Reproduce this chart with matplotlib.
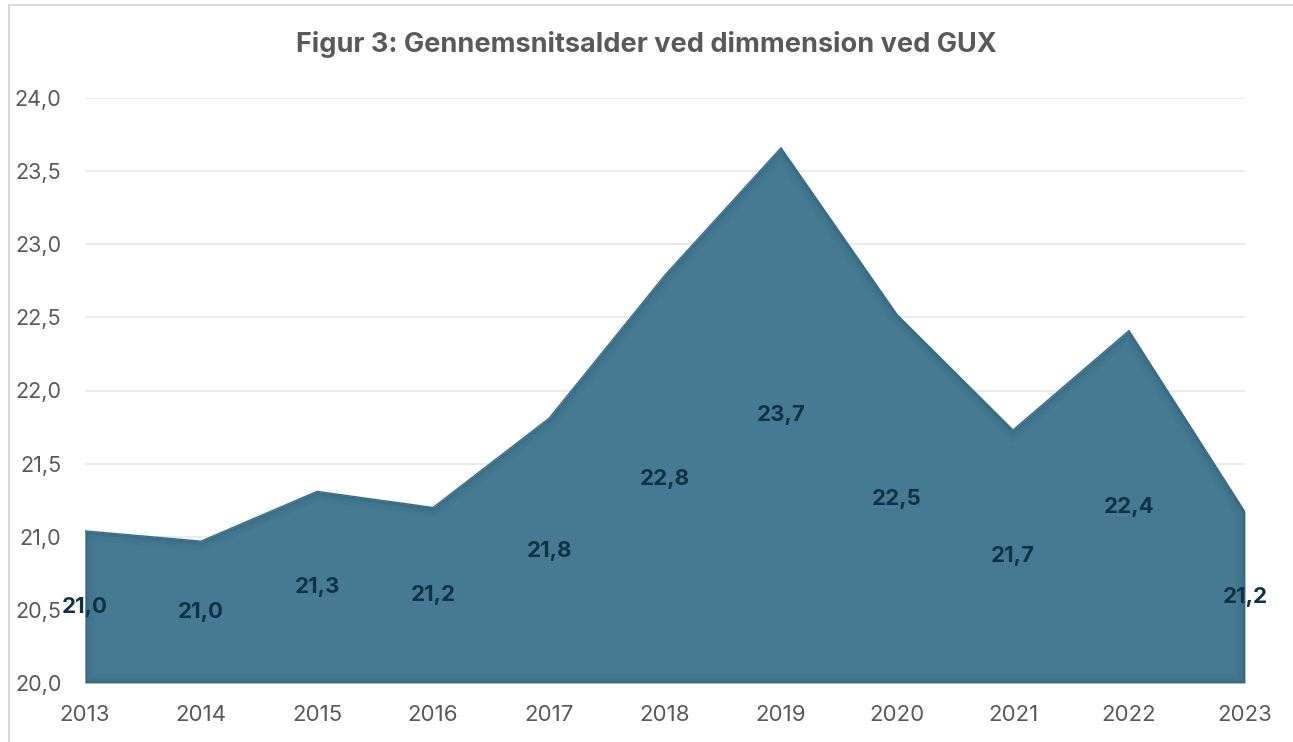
import matplotlib
matplotlib.use("Agg")
import matplotlib.pyplot as plt
from matplotlib.lines import Line2D
import numpy as np

years = [2013, 2014, 2015, 2016, 2017, 2018, 2019, 2020, 2021, 2022, 2023]
ages = [21.04, 20.97, 21.31, 21.20, 21.81, 22.79, 23.66, 22.52, 21.73, 22.41, 21.17]
yticks = [20.0, 20.5, 21.0, 21.5, 22.0, 22.5, 23.0, 23.5, 24.0]
title = "Figur 3: Gennemsnitsalder ved dimmension ved GUX"

W, H = 1293, 742
fig = plt.figure(figsize=(W / 100, H / 100), dpi=100)
fig.patch.set_facecolor("white")

ax = fig.add_axes([85 / W, 1 - 683 / H, (1245 - 85) / W, (683 - 98) / H])
x = np.arange(len(years))
ymin = 20.0

# gridlines
for t in yticks[1:]:
    ax.axhline(t, color="#ebebeb", lw=1.5, zorder=0)

fill_color = "#467a93"
poly = ax.fill_between(x, ymin, ages, color=fill_color, lw=0, zorder=2)
# inner shadow
ox = np.concatenate([[x[0]], x, [x[-1], x[0]]])
oy = np.concatenate([[ymin], ages, [ymin, ymin]])
for lw, a in [(14, 0.05), (9, 0.07), (5, 0.09), (2.5, 0.12)]:
    ln, = ax.plot(ox, oy, color="#1d4a62", lw=lw, alpha=a, zorder=3,
                  solid_joinstyle="miter")
    ln.set_clip_path(poly.get_paths()[0], ax.transData)
ax.plot(x, ages, color="#3c6f88", lw=1.0, zorder=3)

# data labels
for xi, v in zip(x, ages):
    ax.text(xi, (v + ymin) / 2, f"{v:.1f}".replace(".", ","),
            ha="center", va="center", fontsize=16, fontweight="bold",
            color="#0f3247", family="Inter", zorder=5, clip_on=False)

ax.set_xlim(x[0], x[-1])
ax.set_ylim(20.0, 24.0)
ax.set_xticks(x)
ax.set_xticklabels([str(y) for y in years])
ax.set_yticks(yticks)
ax.set_yticklabels([f"{t:.1f}".replace(".", ",") for t in yticks])
ax.tick_params(axis="x", length=0, pad=16, labelsize=16, labelcolor="#595959")
ax.tick_params(axis="y", length=0, pad=17, labelsize=15.5, labelcolor="#595959")
for lab in ax.get_xticklabels() + ax.get_yticklabels():
    lab.set_family("Inter")
for s in ax.spines.values():
    s.set_visible(False)
ax.set_facecolor("none")

# title
fig.text(0.5, 1 - 44 / H, title, ha="center", va="center", fontsize=19.5,
         fontweight="bold", color="#595959", family="Inter")

# chart border (top & left visible)
fig.add_artist(Line2D([9 / W, 9 / W], [0, 1 - 5 / H], transform=fig.transFigure,
                      color="#d9d9d9", lw=1.5))
fig.add_artist(Line2D([9 / W, 1], [1 - 5 / H, 1 - 5 / H], transform=fig.transFigure,
                      color="#d9d9d9", lw=1.5))

fig.savefig("out.png", dpi=100)
